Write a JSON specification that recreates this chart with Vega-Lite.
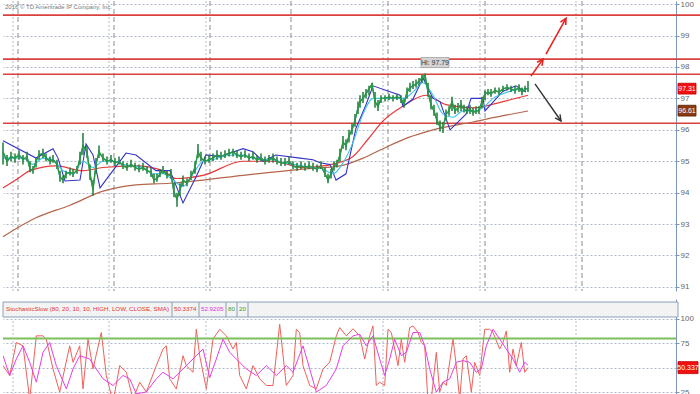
{
  "$schema": "https://vega.github.io/schema/vega-lite/v6.json",
  "padding": 0,
  "background": "white",
  "spacing": 8,
  "bounds": "flush",
  "config": {"view": {"stroke": null}, "font": "Liberation Sans",
    "axisY": {"orient": "right", "title": null, "grid": true, "gridColor": "#aeb8c8", "gridDash": [2,2], "domainColor": "#7a96bc", "tickColor": "#7a96bc", "tickSize": 3, "labelFontSize": 8, "labelColor": "#666666", "labelFont": "Liberation Sans", "labelPadding": 1, "labelOverlap": false, "labelBound": false}
  },
  "datasets": {
    "price": [
      {"t":0,"c":95.3,"h":95.6,"l":94.9},{"t":4,"c":95.0,"h":95.2,"l":94.85},{"t":8,"c":95.15,"h":95.3,"l":95.0},{"t":12,"c":95.1,"h":95.25,"l":94.95},{"t":16,"c":95.2,"h":95.35,"l":95.05},{"t":20,"c":95.05,"h":95.2,"l":94.9},{"t":24,"c":95.15,"h":95.3,"l":95.0},{"t":27,"c":94.75,"h":95.0,"l":94.65},{"t":30,"c":94.7,"h":94.85,"l":94.6},{"t":33,"c":95.0,"h":95.1,"l":94.8},{"t":36,"c":95.2,"h":95.35,"l":95.05},{"t":40,"c":95.25,"h":95.4,"l":95.1},{"t":43,"c":95.1,"h":95.25,"l":95.0},{"t":47,"c":95.0,"h":95.15,"l":94.9},{"t":50,"c":95.05,"h":95.2,"l":94.95},{"t":54,"c":94.9,"h":95.05,"l":94.75},{"t":57,"c":94.5,"h":94.7,"l":94.35},{"t":60,"c":94.4,"h":94.55,"l":94.3},{"t":63,"c":94.6,"h":94.7,"l":94.45},{"t":67,"c":94.65,"h":94.8,"l":94.55},{"t":70,"c":94.6,"h":94.75,"l":94.5},{"t":74,"c":94.7,"h":94.85,"l":94.6},{"t":77,"c":95.1,"h":95.3,"l":94.9},{"t":80,"c":95.5,"h":95.9,"l":95.2},{"t":84,"c":95.3,"h":95.5,"l":95.1},{"t":87,"c":94.6,"h":94.9,"l":94.4},{"t":90,"c":94.1,"h":94.4,"l":93.9},{"t":93,"c":94.9,"h":95.1,"l":94.6},{"t":96,"c":95.3,"h":95.5,"l":95.1},{"t":100,"c":95.1,"h":95.25,"l":95.0},{"t":104,"c":95.0,"h":95.15,"l":94.9},{"t":108,"c":95.05,"h":95.2,"l":94.95},{"t":112,"c":94.95,"h":95.1,"l":94.85},{"t":116,"c":95.0,"h":95.15,"l":94.9},{"t":120,"c":94.85,"h":95.0,"l":94.75},{"t":124,"c":94.8,"h":94.95,"l":94.7},{"t":128,"c":94.9,"h":95.05,"l":94.8},{"t":132,"c":94.8,"h":94.95,"l":94.7},{"t":136,"c":94.75,"h":94.9,"l":94.65},{"t":140,"c":94.8,"h":94.95,"l":94.7},{"t":144,"c":94.7,"h":94.85,"l":94.6},{"t":148,"c":94.65,"h":94.8,"l":94.5},{"t":151,"c":94.4,"h":94.6,"l":94.3},{"t":154,"c":94.45,"h":94.6,"l":94.35},{"t":157,"c":94.6,"h":94.75,"l":94.5},{"t":160,"c":94.7,"h":94.85,"l":94.6},{"t":164,"c":94.55,"h":94.7,"l":94.45},{"t":168,"c":94.6,"h":94.75,"l":94.45},{"t":171,"c":94.0,"h":94.3,"l":93.85},{"t":174,"c":93.8,"h":94.0,"l":93.55},{"t":177,"c":94.1,"h":94.3,"l":93.9},{"t":180,"c":94.4,"h":94.55,"l":94.2},{"t":184,"c":94.3,"h":94.45,"l":94.2},{"t":188,"c":94.5,"h":94.7,"l":94.4},{"t":192,"c":94.8,"h":95.0,"l":94.6},{"t":195,"c":95.3,"h":95.55,"l":95.1},{"t":198,"c":95.1,"h":95.3,"l":95.0},{"t":202,"c":95.0,"h":95.15,"l":94.9},{"t":206,"c":95.05,"h":95.2,"l":94.95},{"t":210,"c":95.1,"h":95.25,"l":95.0},{"t":214,"c":95.2,"h":95.35,"l":95.05},{"t":218,"c":95.15,"h":95.3,"l":95.05},{"t":222,"c":95.2,"h":95.35,"l":95.1},{"t":226,"c":95.25,"h":95.4,"l":95.15},{"t":230,"c":95.3,"h":95.4,"l":95.15},{"t":234,"c":95.2,"h":95.35,"l":95.1},{"t":238,"c":95.15,"h":95.3,"l":95.05},{"t":242,"c":95.2,"h":95.35,"l":95.1},{"t":246,"c":95.1,"h":95.25,"l":95.0},{"t":250,"c":95.15,"h":95.3,"l":95.05},{"t":254,"c":95.05,"h":95.2,"l":94.95},{"t":258,"c":95.1,"h":95.25,"l":95.0},{"t":262,"c":95.0,"h":95.15,"l":94.9},{"t":266,"c":95.05,"h":95.2,"l":94.95},{"t":270,"c":95.1,"h":95.25,"l":94.95},{"t":274,"c":95.0,"h":95.15,"l":94.9},{"t":278,"c":94.95,"h":95.1,"l":94.85},{"t":282,"c":94.95,"h":95.1,"l":94.85},{"t":286,"c":95.0,"h":95.15,"l":94.9},{"t":290,"c":94.85,"h":95.0,"l":94.75},{"t":294,"c":94.8,"h":94.95,"l":94.7},{"t":298,"c":94.85,"h":95.0,"l":94.75},{"t":302,"c":94.8,"h":94.95,"l":94.7},{"t":306,"c":94.85,"h":95.0,"l":94.75},{"t":310,"c":94.8,"h":94.95,"l":94.7},{"t":314,"c":94.75,"h":94.9,"l":94.65},{"t":318,"c":94.85,"h":95.0,"l":94.75},{"t":322,"c":94.6,"h":94.8,"l":94.5},{"t":325,"c":94.4,"h":94.6,"l":94.3},{"t":328,"c":94.6,"h":94.75,"l":94.45},{"t":331,"c":94.85,"h":95.0,"l":94.7},{"t":334,"c":94.9,"h":95.05,"l":94.8},{"t":337,"c":95.2,"h":95.4,"l":95.0},{"t":340,"c":95.6,"h":95.8,"l":95.4},{"t":343,"c":95.5,"h":95.7,"l":95.35},{"t":346,"c":95.8,"h":96.0,"l":95.6},{"t":349,"c":96.0,"h":96.2,"l":95.85},{"t":352,"c":96.3,"h":96.5,"l":96.1},{"t":355,"c":96.7,"h":96.9,"l":96.5},{"t":357,"c":96.9,"h":97.1,"l":96.7},{"t":360,"c":97.0,"h":97.2,"l":96.85},{"t":363,"c":97.15,"h":97.3,"l":97.0},{"t":366,"c":97.3,"h":97.4,"l":97.1},{"t":369,"c":97.45,"h":97.5,"l":97.3},{"t":372,"c":96.9,"h":97.2,"l":96.7},{"t":375,"c":96.75,"h":96.95,"l":96.6},{"t":378,"c":97.0,"h":97.1,"l":96.85},{"t":382,"c":97.0,"h":97.1,"l":96.9},{"t":386,"c":97.05,"h":97.15,"l":96.95},{"t":390,"c":97.0,"h":97.1,"l":96.9},{"t":394,"c":97.05,"h":97.15,"l":96.95},{"t":398,"c":97.0,"h":97.1,"l":96.85},{"t":401,"c":96.8,"h":97.0,"l":96.7},{"t":404,"c":97.2,"h":97.35,"l":97.0},{"t":407,"c":97.35,"h":97.5,"l":97.2},{"t":410,"c":97.4,"h":97.55,"l":97.3},{"t":413,"c":97.45,"h":97.6,"l":97.35},{"t":416,"c":97.55,"h":97.65,"l":97.4},{"t":419,"c":97.65,"h":97.75,"l":97.5},{"t":422,"c":97.75,"h":97.79,"l":97.55},{"t":425,"c":97.2,"h":97.5,"l":97.05},{"t":428,"c":96.8,"h":97.1,"l":96.65},{"t":431,"c":96.6,"h":96.8,"l":96.45},{"t":434,"c":96.3,"h":96.55,"l":96.15},{"t":437,"c":96.1,"h":96.3,"l":95.95},{"t":440,"c":96.05,"h":96.25,"l":95.9},{"t":443,"c":96.5,"h":96.65,"l":96.3},{"t":446,"c":96.6,"h":96.75,"l":96.45},{"t":449,"c":96.9,"h":97.05,"l":96.6},{"t":452,"c":96.6,"h":96.8,"l":96.5},{"t":455,"c":96.7,"h":96.85,"l":96.55},{"t":458,"c":96.8,"h":96.95,"l":96.6},{"t":461,"c":96.65,"h":96.8,"l":96.55},{"t":464,"c":96.6,"h":96.75,"l":96.5},{"t":467,"c":96.65,"h":96.8,"l":96.5},{"t":470,"c":96.55,"h":96.7,"l":96.45},{"t":473,"c":96.6,"h":96.75,"l":96.5},{"t":476,"c":96.6,"h":96.75,"l":96.5},{"t":479,"c":96.9,"h":97.05,"l":96.7},{"t":482,"c":97.15,"h":97.25,"l":96.95},{"t":485,"c":97.2,"h":97.3,"l":97.1},{"t":488,"c":97.15,"h":97.3,"l":97.05},{"t":492,"c":97.25,"h":97.35,"l":97.15},{"t":496,"c":97.2,"h":97.35,"l":97.1},{"t":500,"c":97.3,"h":97.4,"l":97.2},{"t":504,"c":97.35,"h":97.45,"l":97.25},{"t":508,"c":97.3,"h":97.4,"l":97.2},{"t":512,"c":97.25,"h":97.4,"l":97.15},{"t":516,"c":97.35,"h":97.45,"l":97.2},{"t":519,"c":97.2,"h":97.35,"l":97.1},{"t":522,"c":97.3,"h":97.4,"l":97.2},{"t":525,"c":97.32,"h":97.55,"l":97.2}
    ],
    "ma": [
      {"s":"slow","t":0,"v":92.6},{"s":"slow","t":33,"v":93.2},{"s":"slow","t":67,"v":93.6},{"s":"slow","t":100,"v":94.05},{"s":"slow","t":133,"v":94.25},{"s":"slow","t":167,"v":94.3},{"s":"slow","t":200,"v":94.4},{"s":"slow","t":240,"v":94.55},{"s":"slow","t":300,"v":94.75},{"s":"slow","t":337,"v":94.85},{"s":"slow","t":360,"v":95.1},{"s":"slow","t":380,"v":95.4},{"s":"slow","t":405,"v":95.75},{"s":"slow","t":430,"v":96.0},{"s":"slow","t":470,"v":96.25},{"s":"slow","t":500,"v":96.45},{"s":"slow","t":525,"v":96.6},
      {"s":"mid","t":0,"v":94.15},{"s":"mid","t":15,"v":94.45},{"s":"mid","t":27,"v":94.7},{"s":"mid","t":53,"v":94.85},{"s":"mid","t":80,"v":94.7},{"s":"mid","t":100,"v":94.8},{"s":"mid","t":133,"v":94.85},{"s":"mid","t":160,"v":94.7},{"s":"mid","t":173,"v":94.45},{"s":"mid","t":200,"v":94.55},{"s":"mid","t":240,"v":95.0},{"s":"mid","t":270,"v":95.0},{"s":"mid","t":300,"v":94.8},{"s":"mid","t":320,"v":94.85},{"s":"mid","t":335,"v":94.95},{"s":"mid","t":350,"v":95.15},{"s":"mid","t":365,"v":95.7},{"s":"mid","t":380,"v":96.28},{"s":"mid","t":400,"v":96.75},{"s":"mid","t":423,"v":97.1},{"s":"mid","t":443,"v":96.8},{"s":"mid","t":470,"v":96.7},{"s":"mid","t":500,"v":96.9},{"s":"mid","t":525,"v":97.1},
      {"s":"fast","t":0,"v":95.1},{"s":"fast","t":10,"v":95.1},{"s":"fast","t":20,"v":95.1},{"s":"fast","t":30,"v":94.9},{"s":"fast","t":40,"v":95.1},{"s":"fast","t":50,"v":95.05},{"s":"fast","t":60,"v":94.7},{"s":"fast","t":70,"v":94.6},{"s":"fast","t":80,"v":95.0},{"s":"fast","t":90,"v":94.8},{"s":"fast","t":100,"v":95.0},{"s":"fast","t":110,"v":95.0},{"s":"fast","t":120,"v":94.9},{"s":"fast","t":130,"v":94.85},{"s":"fast","t":140,"v":94.8},{"s":"fast","t":150,"v":94.6},{"s":"fast","t":160,"v":94.6},{"s":"fast","t":170,"v":94.4},{"s":"fast","t":180,"v":94.2},{"s":"fast","t":190,"v":94.6},{"s":"fast","t":200,"v":95.0},{"s":"fast","t":210,"v":95.05},{"s":"fast","t":220,"v":95.15},{"s":"fast","t":230,"v":95.2},{"s":"fast","t":240,"v":95.2},{"s":"fast","t":250,"v":95.1},{"s":"fast","t":260,"v":95.05},{"s":"fast","t":270,"v":95.05},{"s":"fast","t":280,"v":94.95},{"s":"fast","t":290,"v":94.9},{"s":"fast","t":300,"v":94.85},{"s":"fast","t":310,"v":94.8},{"s":"fast","t":320,"v":94.75},{"s":"fast","t":330,"v":94.6},{"s":"fast","t":340,"v":94.95},{"s":"fast","t":350,"v":95.6},{"s":"fast","t":360,"v":96.5},{"s":"fast","t":370,"v":97.0},{"s":"fast","t":380,"v":97.0},{"s":"fast","t":390,"v":97.0},{"s":"fast","t":400,"v":97.0},{"s":"fast","t":410,"v":97.2},{"s":"fast","t":420,"v":97.5},{"s":"fast","t":430,"v":97.1},{"s":"fast","t":440,"v":96.5},{"s":"fast","t":450,"v":96.4},{"s":"fast","t":460,"v":96.6},{"s":"fast","t":470,"v":96.6},{"s":"fast","t":480,"v":96.7},{"s":"fast","t":490,"v":97.0},{"s":"fast","t":500,"v":97.15},{"s":"fast","t":510,"v":97.25},{"s":"fast","t":520,"v":97.3},{"s":"fast","t":525,"v":97.3},
      {"s":"trail","t":0,"v":95.65},{"s":"trail","t":33,"v":95.1},{"s":"trail","t":50,"v":95.4},{"s":"trail","t":55,"v":95.1},{"s":"trail","t":62,"v":94.37},{"s":"trail","t":77,"v":94.4},{"s":"trail","t":83,"v":95.55},{"s":"trail","t":90,"v":95.2},{"s":"trail","t":97,"v":94.15},{"s":"trail","t":123,"v":95.26},{"s":"trail","t":133,"v":95.2},{"s":"trail","t":153,"v":94.7},{"s":"trail","t":167,"v":94.7},{"s":"trail","t":180,"v":93.67},{"s":"trail","t":193,"v":94.5},{"s":"trail","t":203,"v":95.2},{"s":"trail","t":217,"v":95.15},{"s":"trail","t":240,"v":95.4},{"s":"trail","t":250,"v":95.3},{"s":"trail","t":260,"v":95.0},{"s":"trail","t":273,"v":95.2},{"s":"trail","t":297,"v":95.1},{"s":"trail","t":310,"v":95.05},{"s":"trail","t":317,"v":94.95},{"s":"trail","t":327,"v":94.9},{"s":"trail","t":333,"v":94.4},{"s":"trail","t":343,"v":94.6},{"s":"trail","t":353,"v":96.05},{"s":"trail","t":363,"v":96.8},{"s":"trail","t":370,"v":97.4},{"s":"trail","t":397,"v":97.1},{"s":"trail","t":400,"v":96.75},{"s":"trail","t":410,"v":96.98},{"s":"trail","t":420,"v":97.65},{"s":"trail","t":430,"v":97.0},{"s":"trail","t":437,"v":96.9},{"s":"trail","t":447,"v":96.0},{"s":"trail","t":463,"v":96.5},{"s":"trail","t":468,"v":97.0},{"s":"trail","t":480,"v":97.0},{"s":"trail","t":482,"v":96.6},{"s":"trail","t":500,"v":97.23},{"s":"trail","t":513,"v":97.4},{"s":"trail","t":523,"v":97.2}
    ],
    "stoch": [
      {"s":"k","t":0,"v":52.4},{"s":"k","t":6.7,"v":42.3},{"s":"k","t":13.3,"v":76},{"s":"k","t":20,"v":72.6},{"s":"k","t":26.7,"v":18},{"s":"k","t":33.3,"v":82.8},{"s":"k","t":40,"v":82.8},{"s":"k","t":43.3,"v":79.4},{"s":"k","t":50,"v":49},{"s":"k","t":56.7,"v":25.4},{"s":"k","t":66.7,"v":72.6},{"s":"k","t":70,"v":55.8},{"s":"k","t":76.7,"v":72.6},{"s":"k","t":80,"v":28.7},{"s":"k","t":85,"v":79.4},{"s":"k","t":90,"v":49},{"s":"k","t":98.3,"v":86.2},{"s":"k","t":103.3,"v":42.3},{"s":"k","t":110,"v":15},{"s":"k","t":116.7,"v":52.4},{"s":"k","t":123.3,"v":45.6},{"s":"k","t":130,"v":18},{"s":"k","t":136.7,"v":35.5},{"s":"k","t":143.3,"v":25.4},{"s":"k","t":153.3,"v":52.4},{"s":"k","t":160,"v":69.3},{"s":"k","t":163.3,"v":72.6},{"s":"k","t":166.7,"v":38.9},{"s":"k","t":173.3,"v":28.7},{"s":"k","t":180,"v":62.5},{"s":"k","t":183.3,"v":52.4},{"s":"k","t":190,"v":45.6},{"s":"k","t":193.3,"v":89.5},{"s":"k","t":196.7,"v":62.5},{"s":"k","t":203.3,"v":28.7},{"s":"k","t":210,"v":79.4},{"s":"k","t":216.7,"v":89.5},{"s":"k","t":223.3,"v":82.8},{"s":"k","t":230,"v":69.3},{"s":"k","t":233.3,"v":76},{"s":"k","t":236.7,"v":42.3},{"s":"k","t":243.3,"v":28.7},{"s":"k","t":250,"v":52.4},{"s":"k","t":256.7,"v":38.9},{"s":"k","t":263.3,"v":32.1},{"s":"k","t":270,"v":32.1},{"s":"k","t":276.7,"v":94.6},{"s":"k","t":283.3,"v":32.1},{"s":"k","t":290,"v":42.3},{"s":"k","t":293.3,"v":89.5},{"s":"k","t":296.7,"v":86.2},{"s":"k","t":300,"v":52.4},{"s":"k","t":306.7,"v":32.1},{"s":"k","t":313.3,"v":28.7},{"s":"k","t":320,"v":49},{"s":"k","t":326.7,"v":55.8},{"s":"k","t":333.3,"v":82.8},{"s":"k","t":336.7,"v":91.2},{"s":"k","t":343.3,"v":82.8},{"s":"k","t":350,"v":90},{"s":"k","t":356.7,"v":82.8},{"s":"k","t":361.7,"v":59.1},{"s":"k","t":366.7,"v":82.8},{"s":"k","t":370,"v":92.9},{"s":"k","t":373.3,"v":32.1},{"s":"k","t":376.7,"v":35.5},{"s":"k","t":381.7,"v":32.1},{"s":"k","t":385,"v":89.5},{"s":"k","t":388.3,"v":86.2},{"s":"k","t":391.7,"v":69.3},{"s":"k","t":395,"v":52.4},{"s":"k","t":398.3,"v":79.4},{"s":"k","t":401.7,"v":55.8},{"s":"k","t":406.7,"v":91.2},{"s":"k","t":410,"v":92.9},{"s":"k","t":415,"v":86.2},{"s":"k","t":418.3,"v":76},{"s":"k","t":421.7,"v":72.6},{"s":"k","t":425,"v":15},{"s":"k","t":428.3,"v":18},{"s":"k","t":433.3,"v":65.9},{"s":"k","t":436.7,"v":25.4},{"s":"k","t":440,"v":35.5},{"s":"k","t":443.3,"v":32.1},{"s":"k","t":450,"v":79.4},{"s":"k","t":453.3,"v":52.4},{"s":"k","t":456.7,"v":18},{"s":"k","t":460,"v":59.1},{"s":"k","t":463.3,"v":62.5},{"s":"k","t":468.3,"v":25.4},{"s":"k","t":471.7,"v":55.8},{"s":"k","t":476.7,"v":42.3},{"s":"k","t":481.7,"v":89.5},{"s":"k","t":486.7,"v":89.5},{"s":"k","t":490,"v":86.2},{"s":"k","t":496.7,"v":69.3},{"s":"k","t":500,"v":76},{"s":"k","t":503.3,"v":87.8},{"s":"k","t":506.7,"v":45.6},{"s":"k","t":510,"v":69.3},{"s":"k","t":513.3,"v":52.4},{"s":"k","t":518.3,"v":76},{"s":"k","t":521.7,"v":45.6},{"s":"k","t":525,"v":50.34},
      {"s":"d","t":0,"v":62.5},{"s":"d","t":6.7,"v":42.3},{"s":"d","t":13.3,"v":59.1},{"s":"d","t":20,"v":72.6},{"s":"d","t":26.7,"v":55.8},{"s":"d","t":33.3,"v":35.5},{"s":"d","t":40,"v":65.9},{"s":"d","t":46.7,"v":76},{"s":"d","t":53.3,"v":52.4},{"s":"d","t":63.3,"v":28.7},{"s":"d","t":70,"v":49},{"s":"d","t":76.7,"v":62.5},{"s":"d","t":86.7,"v":59.1},{"s":"d","t":93.3,"v":49},{"s":"d","t":100,"v":38.9},{"s":"d","t":110,"v":32.1},{"s":"d","t":120,"v":42.3},{"s":"d","t":126.7,"v":38.9},{"s":"d","t":133.3,"v":23.7},{"s":"d","t":143.3,"v":25.4},{"s":"d","t":153.3,"v":38.9},{"s":"d","t":160,"v":45.6},{"s":"d","t":170,"v":38.9},{"s":"d","t":183.3,"v":52.4},{"s":"d","t":193.3,"v":62.5},{"s":"d","t":200,"v":69.3},{"s":"d","t":206.7,"v":40},{"s":"d","t":213.3,"v":59.1},{"s":"d","t":220,"v":79.4},{"s":"d","t":226.7,"v":65.9},{"s":"d","t":233.3,"v":59.1},{"s":"d","t":243.3,"v":49},{"s":"d","t":253.3,"v":42.3},{"s":"d","t":263.3,"v":52.4},{"s":"d","t":273.3,"v":42.3},{"s":"d","t":283.3,"v":52.4},{"s":"d","t":290,"v":45.6},{"s":"d","t":300,"v":72.6},{"s":"d","t":306.7,"v":49},{"s":"d","t":313.3,"v":25.4},{"s":"d","t":323.3,"v":32.1},{"s":"d","t":333.3,"v":49},{"s":"d","t":340,"v":72.6},{"s":"d","t":350,"v":82.8},{"s":"d","t":356.7,"v":84.5},{"s":"d","t":363.3,"v":72.6},{"s":"d","t":370,"v":82.8},{"s":"d","t":376.7,"v":59.1},{"s":"d","t":381.7,"v":42.3},{"s":"d","t":386.7,"v":59.1},{"s":"d","t":391.7,"v":79.4},{"s":"d","t":398.3,"v":62.5},{"s":"d","t":403.3,"v":65.9},{"s":"d","t":410,"v":86.2},{"s":"d","t":416.7,"v":86.2},{"s":"d","t":421.7,"v":72.6},{"s":"d","t":426.7,"v":49},{"s":"d","t":433.3,"v":25.4},{"s":"d","t":440,"v":35.5},{"s":"d","t":446.7,"v":38.9},{"s":"d","t":453.3,"v":55.8},{"s":"d","t":460,"v":57.5},{"s":"d","t":466.7,"v":55.8},{"s":"d","t":473.3,"v":45.6},{"s":"d","t":478.3,"v":49},{"s":"d","t":483.3,"v":72.6},{"s":"d","t":490,"v":89.5},{"s":"d","t":496.7,"v":79.4},{"s":"d","t":503.3,"v":69.3},{"s":"d","t":510,"v":59.1},{"s":"d","t":516.7,"v":45.6},{"s":"d","t":521.7,"v":55.8},{"s":"d","t":525,"v":52.92}
    ],
    "levels": [{"v":99.65},{"v":98.25},{"v":97.77},{"v":96.21}],
    "vdot": [{"t":10},{"t":106},{"t":203},{"t":380},{"t":477},{"t":573}],
    "vdash": [{"t":15},{"t":111},{"t":207},{"t":288},{"t":385},{"t":482},{"t":579}],
    "arrows": [
      {"id":"up1","t":528,"v":97.71,"t2":540,"v2":98.25},
      {"id":"up2","t":543,"v":98.41,"t2":563,"v2":99.55},
      {"id":"down","t":532,"v":97.46,"t2":558,"v2":96.28}
    ],
    "header": [
      {"at":3,"label":"StochasticSlow (80, 20, 10, 10, HIGH, LOW, CLOSE, SMA)","kind":"name"},
      {"at":171,"label":"50.3374","kind":"k"},
      {"at":198,"label":"52.9205","kind":"d"},
      {"at":225,"label":"80","kind":"lvl"},
      {"at":236,"label":"20","kind":"lvl"}
    ],
    "seps": [{"at":169},{"at":196},{"at":223},{"at":234},{"at":245}]
  },
  "vconcat": [
    {
      "width": 673,
      "height": 290,
      "layer": [
        {
          "data": {"name": "price"},
          "mark": {"type": "line", "stroke": "#2a9a48", "strokeWidth": 1.3},
          "encoding": {
            "x": {"field": "t", "type": "quantitative", "scale": {"domain": [0, 673], "nice": false, "zero": false}, "axis": null},
            "y": {"field": "c", "type": "quantitative", "title": null, "scale": {"domain": [90.87, 100.1], "nice": false, "zero": false},
              "axis": {"values": [91,92,93,94,95,96,97,98,99,100], "title": null, "labelOverlap": false, "labelSeparation": 0, "tickCount": 10}}
          }
        },
        {
          "data": {"name": "vdot"},
          "mark": {"type": "rule", "stroke": "#b4bcc8", "strokeDash": [2,2], "strokeWidth": 1},
          "encoding": {"x": {"field": "t", "type": "quantitative", "axis": null}}
        },
        {
          "data": {"name": "vdash"},
          "mark": {"type": "rule", "stroke": "#a0a0a0", "strokeDash": [5,3], "strokeWidth": 1.2},
          "encoding": {"x": {"field": "t", "type": "quantitative", "axis": null}}
        },
        {
          "data": {"name": "levels"},
          "mark": {"type": "rule", "stroke": "#d9413f", "strokeWidth": 1.6, "clip": false},
          "encoding": {
            "y": {"field": "v", "type": "quantitative", "title": null},
            "x": {"datum": 0, "type": "quantitative", "axis": null},
            "x2": {"datum": 700}
          }
        },
        {
          "data": {"name": "ma"},
          "transform": [{"filter": "datum.s == 'slow'"}],
          "mark": {"type": "line", "stroke": "#b5654a", "strokeWidth": 1.2, "interpolate": "monotone"},
          "encoding": {"x": {"field": "t", "type": "quantitative", "axis": null}, "y": {"field": "v", "type": "quantitative", "title": null}}
        },
        {
          "data": {"name": "ma"},
          "transform": [{"filter": "datum.s == 'mid'"}],
          "mark": {"type": "line", "stroke": "#e83a3a", "strokeWidth": 1.2, "interpolate": "monotone"},
          "encoding": {"x": {"field": "t", "type": "quantitative", "axis": null}, "y": {"field": "v", "type": "quantitative", "title": null}}
        },
        {
          "data": {"name": "ma"},
          "transform": [{"filter": "datum.s == 'trail'"}],
          "mark": {"type": "line", "stroke": "#3434c8", "strokeWidth": 1.1},
          "encoding": {"x": {"field": "t", "type": "quantitative", "axis": null}, "y": {"field": "v", "type": "quantitative", "title": null}}
        },
        {
          "data": {"name": "ma"},
          "transform": [{"filter": "datum.s == 'fast'"}],
          "mark": {"type": "line", "stroke": "#3cc4e6", "strokeWidth": 1.1, "interpolate": "monotone"},
          "encoding": {"x": {"field": "t", "type": "quantitative", "axis": null}, "y": {"field": "v", "type": "quantitative", "title": null}}
        },
        {
          "data": {"name": "price"},
          "mark": {"type": "rule", "stroke": "#1e7a3a", "strokeWidth": 1.5},
          "encoding": {
            "x": {"field": "t", "type": "quantitative", "axis": null},
            "y": {"field": "l", "type": "quantitative", "title": null},
            "y2": {"field": "h"}
          }
        },
        {
          "data": {"name": "price"},
          "mark": {"type": "line", "stroke": "#2a9a48", "strokeWidth": 1.3},
          "encoding": {
            "x": {"field": "t", "type": "quantitative", "axis": null},
            "y": {"field": "c", "type": "quantitative", "title": null}
          }
        },
        {
          "data": {"name": "arrows"},
          "transform": [{"filter": "datum.id != 'down'"}],
          "mark": {"type": "rule", "strokeWidth": 1.6, "stroke": "#e8231f", "clip": false},
          "encoding": {
            "x": {"field": "t", "type": "quantitative", "axis": null},
            "y": {"field": "v", "type": "quantitative", "title": null},
            "x2": {"field": "t2"},
            "y2": {"field": "v2"}
          }
        },
        {
          "data": {"name": "arrows"},
          "transform": [{"filter": "datum.id == 'down'"}],
          "mark": {"type": "rule", "strokeWidth": 1.4, "stroke": "#333333", "clip": false},
          "encoding": {
            "x": {"field": "t", "type": "quantitative", "axis": null},
            "y": {"field": "v", "type": "quantitative", "title": null},
            "x2": {"field": "t2"},
            "y2": {"field": "v2"}
          }
        },
        {
          "data": {"name": "arrows"},
          "transform": [{"filter": "datum.id == 'up1'"}],
          "mark": {"type": "point", "shape": "M-0.75,1.5L0,0L0.75,1.5", "filled": false, "stroke": "#e8231f", "strokeWidth": 1.6, "size": 64, "angle": 35, "opacity": 1},
          "encoding": {"x": {"field": "t2", "type": "quantitative", "axis": null}, "y": {"field": "v2", "type": "quantitative", "title": null}}
        },
        {
          "data": {"name": "arrows"},
          "transform": [{"filter": "datum.id == 'up2'"}],
          "mark": {"type": "point", "shape": "M-0.75,1.5L0,0L0.75,1.5", "filled": false, "stroke": "#e8231f", "strokeWidth": 1.6, "size": 64, "angle": 29, "opacity": 1},
          "encoding": {"x": {"field": "t2", "type": "quantitative", "axis": null}, "y": {"field": "v2", "type": "quantitative", "title": null}}
        },
        {
          "data": {"name": "arrows"},
          "transform": [{"filter": "datum.id == 'down'"}],
          "mark": {"type": "point", "shape": "M-0.75,1.5L0,0L0.75,1.5", "filled": false, "stroke": "#333333", "strokeWidth": 1.4, "size": 64, "angle": 145, "opacity": 1},
          "encoding": {"x": {"field": "t2", "type": "quantitative", "axis": null}, "y": {"field": "v2", "type": "quantitative", "title": null}}
        },
        {
          "data": {"values": [{"t": 422, "v": 97.79, "label": "Hi: 97.79"}]},
          "mark": {"type": "point", "shape": "M-1,-0.36H1V0.36H-1Z", "size": 784, "filled": true, "fill": "#d4d4d4", "stroke": "#a0a0a0", "strokeWidth": 0.8, "opacity": 1, "xOffset": 10, "yOffset": -11},
          "encoding": {"x": {"field": "t", "type": "quantitative", "axis": null}, "y": {"field": "v", "type": "quantitative", "title": null}}
        },
        {
          "data": {"values": [{"t": 422, "v": 97.79, "label": "Hi: 97.79"}]},
          "mark": {"type": "text", "fontSize": 7, "color": "#333333", "xOffset": 10, "yOffset": -11, "baseline": "middle"},
          "encoding": {"x": {"field": "t", "type": "quantitative", "axis": null}, "y": {"field": "v", "type": "quantitative", "title": null}, "text": {"field": "label"}}
        },
        {
          "data": {"values": [{"v": 97.31, "label": "97.31"}]},
          "mark": {"type": "point", "shape": "M-1,-0.6H1V0.6H-1Z", "size": 324, "filled": true, "fill": "#f01010", "stroke": "#c00000", "opacity": 1, "strokeWidth": 0.8, "xOffset": 11, "clip": false},
          "encoding": {"x": {"datum": 673, "type": "quantitative", "axis": null}, "y": {"field": "v", "type": "quantitative", "title": null}}
        },
        {
          "data": {"values": [{"v": 96.61, "label": "96.61"}]},
          "mark": {"type": "point", "shape": "M-1,-0.6H1V0.6H-1Z", "size": 324, "filled": true, "fill": "#8a3a10", "stroke": "#5a2000", "opacity": 1, "strokeWidth": 0.8, "xOffset": 11, "clip": false},
          "encoding": {"x": {"datum": 673, "type": "quantitative", "axis": null}, "y": {"field": "v", "type": "quantitative", "title": null}}
        },
        {
          "data": {"values": [{"v": 97.31, "label": "97.31"}, {"v": 96.61, "label": "96.61"}]},
          "mark": {"type": "text", "fontSize": 7, "color": "#ffffff", "xOffset": 11, "baseline": "middle", "clip": false},
          "encoding": {"x": {"datum": 673, "type": "quantitative", "axis": null}, "y": {"field": "v", "type": "quantitative", "title": null}, "text": {"field": "label"}}
        },
        {
          "data": {"values": [{"label": "2016 © TD Ameritrade IP Company, Inc."}]},
          "mark": {"type": "text", "fontSize": 6, "color": "#777777", "align": "left", "baseline": "top", "dx": 2, "dy": 3},
          "encoding": {
            "x": {"datum": 0, "type": "quantitative", "axis": null},
            "y": {"datum": 100.1, "type": "quantitative", "title": null},
            "text": {"field": "label"}
          }
        }
      ]
    },
    {
      "width": 673,
      "height": 96,
      "layer": [
        {
          "data": {"name": "stoch"},
          "transform": [{"filter": "datum.s == 'k'"}],
          "mark": {"type": "line", "strokeWidth": 1, "stroke": "#f0605a", "clip": true},
          "encoding": {
            "x": {"field": "t", "type": "quantitative", "scale": {"domain": [0, 673], "nice": false, "zero": false}, "axis": null},
            "y": {"field": "v", "type": "quantitative", "title": null, "scale": {"domain": [22.4, 120.4], "nice": false, "zero": false},
              "axis": {"values": [25,50,75,100], "title": null, "labelOverlap": false, "labelSeparation": 0, "tickCount": 4}}
          }
        },
        {
          "data": {"values": [{"v": 80}]},
          "mark": {"type": "rule", "stroke": "#7cc05a", "strokeWidth": 2},
          "encoding": {
            "y": {"field": "v", "type": "quantitative", "title": null},
            "x": {"datum": 0, "type": "quantitative", "axis": null},
            "x2": {"datum": 673}
          }
        },
        {
          "data": {"name": "vdot"},
          "mark": {"type": "rule", "stroke": "#b4bcc8", "strokeDash": [2,2], "strokeWidth": 1},
          "encoding": {
            "x": {"field": "t", "type": "quantitative", "axis": null},
            "y": {"datum": 22.4, "type": "quantitative", "title": null},
            "y2": {"datum": 100}
          }
        },
        {
          "data": {"values": [{"v": 102}]},
          "mark": {"type": "rect", "fill": "#f3f3f3", "stroke": "#8aa0b8", "strokeWidth": 1},
          "encoding": {
            "x": {"datum": 0, "type": "quantitative", "axis": null},
            "x2": {"datum": 675},
            "y": {"field": "v", "type": "quantitative", "title": null},
            "y2": {"datum": 117.3}
          }
        },
        {
          "data": {"name": "seps"},
          "mark": {"type": "rule", "stroke": "#8aa0b8", "strokeWidth": 1},
          "encoding": {
            "x": {"field": "at", "type": "quantitative", "axis": null},
            "y": {"datum": 102, "type": "quantitative", "title": null},
            "y2": {"datum": 117.3}
          }
        },
        {
          "data": {"name": "header"},
          "transform": [{"filter": "datum.kind == 'name' || datum.kind == 'k'"}],
          "mark": {"type": "text", "fontSize": 6.2, "align": "left", "baseline": "middle", "color": "#e03535"},
          "encoding": {
            "x": {"field": "at", "type": "quantitative", "axis": null},
            "y": {"datum": 109.7, "type": "quantitative", "title": null},
            "text": {"field": "label"}
          }
        },
        {
          "data": {"name": "header"},
          "transform": [{"filter": "datum.kind == 'd'"}],
          "mark": {"type": "text", "fontSize": 6.2, "align": "left", "baseline": "middle", "color": "#e030e0"},
          "encoding": {
            "x": {"field": "at", "type": "quantitative", "axis": null},
            "y": {"datum": 109.7, "type": "quantitative", "title": null},
            "text": {"field": "label"}
          }
        },
        {
          "data": {"name": "header"},
          "transform": [{"filter": "datum.kind == 'lvl'"}],
          "mark": {"type": "text", "fontSize": 6.2, "align": "left", "baseline": "middle", "color": "#3a9a30"},
          "encoding": {
            "x": {"field": "at", "type": "quantitative", "axis": null},
            "y": {"datum": 109.7, "type": "quantitative", "title": null},
            "text": {"field": "label"}
          }
        },
        {
          "data": {"name": "stoch"},
          "transform": [{"filter": "datum.s == 'd'"}],
          "mark": {"type": "line", "strokeWidth": 1, "stroke": "#e63ee6", "clip": true},
          "encoding": {
            "x": {"field": "t", "type": "quantitative", "axis": null},
            "y": {"field": "v", "type": "quantitative", "title": null}
          }
        },
        {
          "data": {"values": [{"v": 50.34, "label": "50.337"}]},
          "mark": {"type": "point", "shape": "M-1,-0.6H1V0.6H-1Z", "size": 400, "filled": true, "fill": "#f01010", "stroke": "#c00000", "strokeWidth": 0.8, "opacity": 1, "xOffset": 12, "clip": false},
          "encoding": {"x": {"datum": 673, "type": "quantitative", "axis": null}, "y": {"field": "v", "type": "quantitative", "title": null}}
        },
        {
          "data": {"values": [{"v": 50.34, "label": "50.337"}]},
          "mark": {"type": "text", "fontSize": 7, "color": "#ffffff", "xOffset": 12, "baseline": "middle", "clip": false},
          "encoding": {"x": {"datum": 673, "type": "quantitative", "axis": null}, "y": {"field": "v", "type": "quantitative", "title": null}, "text": {"field": "label"}}
        }
      ]
    }
  ]
}
